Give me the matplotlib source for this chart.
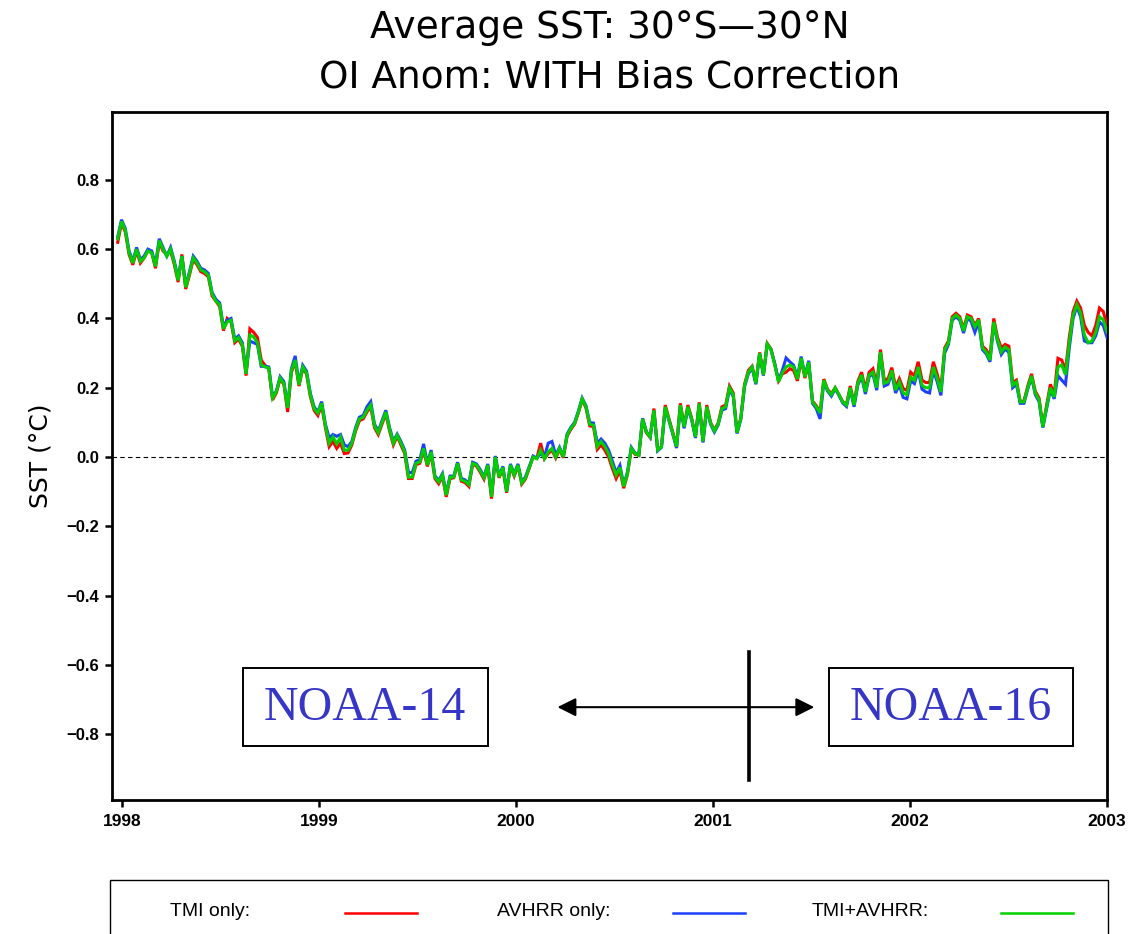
import numpy as np
import matplotlib
matplotlib.use("Agg")
import matplotlib.pyplot as plt
from matplotlib.patches import Rectangle

# ---------------- data (weekly SST anomaly, degC) ----------------
start_year = 1997.979          # first weekly sample (decimal year)
week = 7.0 / 365.25

tmi_avhrr = [
    0.63, 0.68, 0.655, 0.59, 0.56, 0.60, 0.565, 0.575, 0.595, 0.59,
    0.55, 0.625, 0.60, 0.58, 0.60, 0.56, 0.51, 0.58, 0.49, 0.53,
    0.575, 0.56, 0.54, 0.535, 0.525, 0.47, 0.45, 0.44, 0.37, 0.39,
    0.395, 0.335, 0.345, 0.324, 0.24, 0.352, 0.347, 0.33, 0.266, 0.26,
    0.257, 0.17, 0.188, 0.228, 0.213, 0.142, 0.25, 0.28, 0.208, 0.26,
    0.243, 0.18, 0.14, 0.127, 0.155, 0.09, 0.04, 0.058, 0.038, 0.058,
    0.02, 0.02, 0.04, 0.08, 0.11, 0.115, 0.135, 0.15, 0.09, 0.07,
    0.10, 0.13, 0.08, 0.04, 0.063, 0.04, 0.015, -0.058, -0.058, -0.018,
    -0.014, 0.025, -0.023, 0.015, -0.058, -0.072, -0.052, -0.11, -0.058, -0.058,
    -0.018, -0.066, -0.07, -0.08, -0.018, -0.023, -0.04, -0.06, -0.023, -0.115,
    0.0, -0.058, -0.03, -0.10, -0.023, -0.052, -0.023, -0.075, -0.06, -0.03,
    0.0, -0.005, 0.02, -0.005, 0.015, 0.025, 0.0, 0.025, 0.0, 0.063,
    0.083, 0.097, 0.13, 0.168, 0.145, 0.095, 0.092, 0.03, 0.045, 0.03,
    0.01, -0.023, -0.052, -0.03, -0.085, -0.047, 0.025, 0.01, 0.005, 0.11,
    0.072, 0.058, 0.135, 0.02, 0.03, 0.145, 0.107, 0.07, 0.03, 0.15,
    0.087, 0.145, 0.11, 0.058, 0.155, 0.045, 0.145, 0.098, 0.075, 0.095,
    0.14, 0.145, 0.20, 0.18, 0.07, 0.11, 0.207, 0.245, 0.26, 0.213,
    0.30, 0.237, 0.326, 0.31, 0.266, 0.217, 0.243, 0.26, 0.266, 0.26,
    0.225, 0.286, 0.231, 0.274, 0.159, 0.145, 0.127, 0.222, 0.193, 0.18,
    0.20, 0.18, 0.159, 0.15, 0.20, 0.15, 0.213, 0.237, 0.188, 0.237,
    0.245, 0.20, 0.303, 0.213, 0.217, 0.25, 0.193, 0.217, 0.185, 0.18,
    0.231, 0.222, 0.26, 0.207, 0.20, 0.20, 0.26, 0.228, 0.188, 0.31,
    0.33, 0.40, 0.41, 0.40, 0.364, 0.405, 0.40, 0.376, 0.396, 0.315,
    0.303, 0.28, 0.39, 0.338, 0.303, 0.318, 0.31, 0.207, 0.217, 0.159,
    0.159, 0.20, 0.234, 0.185, 0.165, 0.087, 0.145, 0.20, 0.173, 0.26,
    0.266, 0.237, 0.33, 0.41, 0.44, 0.415, 0.352, 0.33, 0.335, 0.36,
    0.405, 0.396, 0.36,
]

tmi_only = [
    0.62, 0.675, 0.65, 0.585, 0.555, 0.595, 0.56, 0.575, 0.595, 0.59,
    0.545, 0.62, 0.595, 0.585, 0.595, 0.555, 0.505, 0.585, 0.485, 0.525,
    0.57, 0.555, 0.535, 0.53, 0.52, 0.465, 0.45, 0.435, 0.365, 0.40,
    0.39, 0.33, 0.34, 0.32, 0.235, 0.37, 0.36, 0.345, 0.28, 0.265,
    0.255, 0.165, 0.185, 0.225, 0.21, 0.13, 0.245, 0.275, 0.205, 0.255,
    0.24, 0.175, 0.135, 0.12, 0.15, 0.085, 0.03, 0.045, 0.025, 0.04,
    0.01, 0.012, 0.035, 0.075, 0.105, 0.11, 0.13, 0.145, 0.085, 0.065,
    0.095, 0.125, 0.075, 0.035, 0.06, 0.035, 0.01, -0.062, -0.062, -0.022,
    -0.018, 0.02, -0.027, 0.01, -0.062, -0.077, -0.056, -0.115, -0.062, -0.06,
    -0.02, -0.07, -0.074, -0.085, -0.02, -0.026, -0.044, -0.064, -0.026, -0.12,
    -0.003, -0.06, -0.033, -0.103, -0.026, -0.055, -0.026, -0.078, -0.063, -0.032,
    0.0, -0.003, 0.04, -0.005, 0.01, 0.02, -0.003, 0.022, -0.002, 0.06,
    0.08, 0.095, 0.128, 0.165, 0.142, 0.09, 0.088, 0.022, 0.035, 0.02,
    0.0, -0.033, -0.062, -0.04, -0.09, -0.05, 0.022, 0.008, 0.005, 0.108,
    0.07, 0.057, 0.14, 0.02, 0.03, 0.15, 0.11, 0.072, 0.032, 0.155,
    0.09, 0.15, 0.112, 0.06, 0.158, 0.047, 0.15, 0.1, 0.078, 0.098,
    0.145, 0.15, 0.205, 0.185, 0.072, 0.112, 0.21, 0.25, 0.262, 0.215,
    0.302, 0.24, 0.328, 0.312, 0.268, 0.22, 0.24, 0.245, 0.255, 0.25,
    0.22, 0.28, 0.228, 0.27, 0.162, 0.148, 0.13, 0.225, 0.195, 0.183,
    0.2, 0.18, 0.16, 0.152, 0.205, 0.155, 0.218, 0.245, 0.195, 0.245,
    0.255, 0.208, 0.31, 0.222, 0.226, 0.258, 0.202, 0.226, 0.198, 0.192,
    0.245, 0.235, 0.275, 0.222, 0.215, 0.215, 0.275, 0.24, 0.195, 0.315,
    0.335, 0.405, 0.415, 0.405, 0.37, 0.41, 0.405, 0.38, 0.40, 0.32,
    0.31, 0.29, 0.40, 0.345, 0.315, 0.325, 0.32, 0.215, 0.222, 0.16,
    0.162, 0.205, 0.24, 0.19, 0.17, 0.088, 0.15, 0.21, 0.18, 0.285,
    0.28, 0.25, 0.345, 0.42, 0.45, 0.43, 0.38, 0.36, 0.35, 0.38,
    0.43, 0.42, 0.38,
]

avhrr_only = [
    0.635, 0.685, 0.66, 0.595, 0.565, 0.605, 0.57, 0.58, 0.60, 0.595,
    0.555, 0.63, 0.605, 0.58, 0.605, 0.565, 0.515, 0.58, 0.495, 0.535,
    0.58, 0.565, 0.545, 0.54, 0.53, 0.475, 0.455, 0.445, 0.375, 0.395,
    0.40, 0.34, 0.35, 0.33, 0.245, 0.335, 0.33, 0.325, 0.262, 0.262,
    0.26, 0.175, 0.19, 0.232, 0.218, 0.145, 0.255, 0.292, 0.212, 0.265,
    0.248, 0.185, 0.145, 0.13, 0.16, 0.095, 0.055, 0.065, 0.06, 0.065,
    0.035, 0.03, 0.045, 0.085, 0.115, 0.12, 0.145, 0.16, 0.095, 0.075,
    0.105, 0.135, 0.085, 0.045, 0.066, 0.045, 0.02, -0.045, -0.045, -0.012,
    -0.008, 0.038, -0.018, 0.02, -0.054, -0.068, -0.048, -0.105, -0.055, -0.055,
    -0.015, -0.062, -0.066, -0.076, -0.015, -0.02, -0.036, -0.057, -0.02, -0.11,
    0.003, -0.055, -0.027, -0.097, -0.02, -0.049, -0.02, -0.072, -0.057, -0.027,
    0.003, -0.003, 0.01, 0.0, 0.04, 0.045, 0.005, 0.028, 0.002, 0.066,
    0.086, 0.1, 0.133, 0.17, 0.148, 0.1, 0.098, 0.04, 0.052, 0.04,
    0.02, -0.012, -0.045, -0.024, -0.08, -0.043, 0.028, 0.012, 0.006, 0.112,
    0.074, 0.057, 0.132, 0.018, 0.028, 0.14, 0.104, 0.066, 0.026, 0.146,
    0.083, 0.14, 0.107, 0.055, 0.152, 0.042, 0.14, 0.095, 0.072, 0.092,
    0.135, 0.14, 0.195, 0.175, 0.068, 0.108, 0.203, 0.24, 0.258, 0.21,
    0.298, 0.235, 0.325, 0.31, 0.27, 0.22, 0.25, 0.286, 0.275, 0.265,
    0.23, 0.29, 0.235, 0.278, 0.155, 0.14, 0.11, 0.218, 0.19, 0.176,
    0.197, 0.178, 0.156, 0.146, 0.195, 0.145, 0.208, 0.232, 0.182, 0.232,
    0.24, 0.193, 0.298, 0.205, 0.21, 0.242, 0.185, 0.208, 0.172, 0.168,
    0.22, 0.212, 0.25, 0.196, 0.188, 0.185, 0.25, 0.218, 0.178, 0.3,
    0.325, 0.395, 0.405, 0.395, 0.358, 0.40, 0.392, 0.36, 0.39, 0.31,
    0.298, 0.275, 0.385, 0.333, 0.296, 0.312, 0.302, 0.2, 0.21, 0.155,
    0.155, 0.196, 0.23, 0.18, 0.16, 0.085, 0.14, 0.195, 0.168, 0.235,
    0.222, 0.21, 0.315, 0.40, 0.435, 0.405, 0.335, 0.33, 0.33, 0.35,
    0.39, 0.38, 0.345,
]

year_ticks = [1998, 1999, 2000, 2001, 2002, 2003]
y_ticks = [-0.8, -0.6, -0.4, -0.2, 0.0, 0.2, 0.4, 0.6, 0.8]
series_labels = ["TMI only:", "AVHRR only:", "TMI+AVHRR:"]
series_colors = ["#ff0000", "#1f3fff", "#00d000"]

# ---------------- figure ----------------
W, H = 1146, 934
fig = plt.figure(figsize=(W / 100, H / 100), dpi=100)


def fx(px):
    return px / W


def fy(py):
    return 1 - py / H


ax = fig.add_axes([fx(112), fy(800), fx(1107) - fx(112), fy(112) - fy(800)])

n = len(tmi_avhrr)
t = start_year + np.arange(n) * week

for vals, col in zip([tmi_only, avhrr_only, tmi_avhrr], series_colors):
    ax.plot(t[:len(vals)], vals, color=col, lw=2.2, solid_joinstyle="miter", zorder=3)

ax.axhline(0.0, color="black", lw=0.8, dashes=(4, 3), zorder=2)

ax.set_xlim(1997.95, 2003.0)
ax.set_ylim(-0.99, 0.996)
ax.set_xticks(year_ticks)
ax.set_xticklabels([str(y) for y in year_ticks])
ax.set_yticks(y_ticks)
ax.set_yticklabels([f"{v:.1f}".replace("-", "\u2212") if v != 0 else "0.0" for v in y_ticks])

for s in ax.spines.values():
    s.set_linewidth(2.0)
ax.tick_params(axis="both", direction="out", length=5, width=1.8)
ax.tick_params(axis="y", pad=4, labelsize=12)
ax.tick_params(axis="x", pad=5, labelsize=12.5)
for lab in ax.get_xticklabels() + ax.get_yticklabels():
    lab.set_fontfamily("Liberation Sans")
    lab.set_fontweight("bold")

ax.set_ylabel("SST (\u00b0C)", fontsize=18, labelpad=10)

# ---------------- titles ----------------
fig.text(fx(609.5), fy(28), "Average SST: 30\u00b0S\u201430\u00b0N", ha="center", va="center",
         fontsize=27)
fig.text(fx(609.5), fy(78), "OI Anom: WITH Bias Correction", ha="center", va="center",
         fontsize=27)

# ---------------- annotations ----------------
def px2x(px):
    return 1998 + (px - 122) / 197.2


def py2y(py):
    return (457 - py) / 346.25


noaa_col = "#3535c8"
for (x0, x1, label) in [(243, 488, "NOAA-14"), (830, 1074, "NOAA-16")]:
    ax.add_patch(Rectangle((px2x(x0), py2y(746)), px2x(x1) - px2x(x0), py2y(668) - py2y(746),
                           fill=False, ec="black", lw=1.4, zorder=4))
    ax.text((px2x(x0) + px2x(x1)) / 2, py2y(708), label, ha="center", va="center",
            fontsize=34.5, color=noaa_col, fontfamily="Liberation Serif", zorder=5)

ax.annotate("", xy=(px2x(815), py2y(707)), xytext=(px2x(558), py2y(707)),
            arrowprops=dict(arrowstyle="<|-|>", color="black", lw=1.5,
                            mutation_scale=28, shrinkA=0, shrinkB=0), zorder=5)
ax.plot([px2x(750), px2x(750)], [py2y(652), py2y(780)], color="black", lw=2.6, zorder=5)

# ---------------- legend box ----------------
fig.patches.append(Rectangle((fx(110), fy(945)), fx(1108) - fx(110), fy(880) - fy(945),
                             transform=fig.transFigure, fill=False, ec="black", lw=1.0))
text_x = [170, 497, 812]
line_x = [(345, 417), (673, 745), (1001, 1073)]
for lab, tx, (l0, l1), col in zip(series_labels, text_x, line_x, series_colors):
    fig.text(fx(tx), fy(912), lab, ha="left", va="center", fontsize=14,
             fontfamily="Liberation Sans")
    fig.lines.append(plt.Line2D([fx(l0), fx(l1)], [fy(913), fy(913)], transform=fig.transFigure,
                                color=col, lw=1.8))

fig.savefig("out.png", dpi=100)
